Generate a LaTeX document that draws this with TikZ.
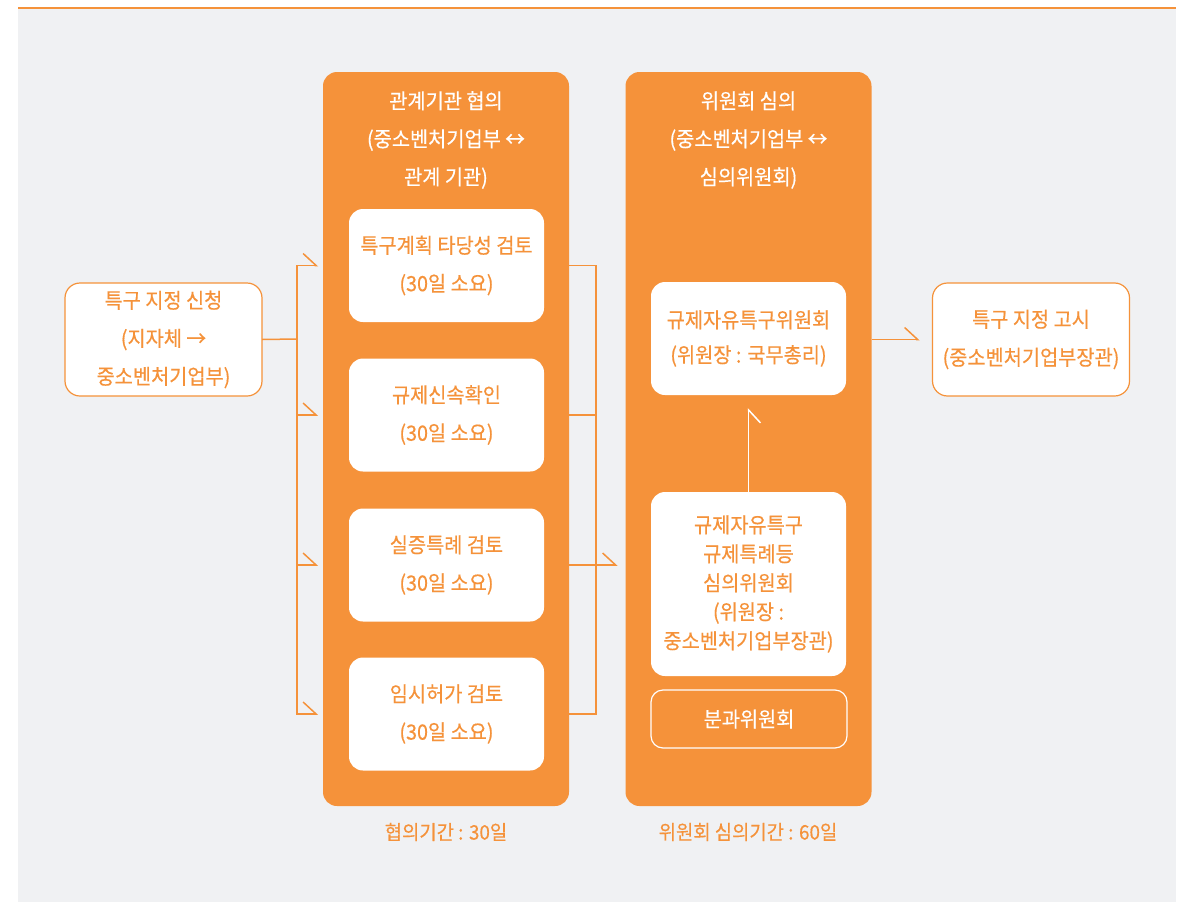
\documentclass[tikz,border=0pt]{standalone}
\usepackage{fontspec}
\setmainfont{Noto Sans CJK KR}[FakeBold=0.4, FakeStretch=0.94]
\usetikzlibrary{arrows.meta}
\definecolor{org}{HTML}{F5923A}
\definecolor{bg}{HTML}{F0F1F3}
\begin{document}
\begin{tikzpicture}[x=1pt,y=-1pt,
  every node/.style={inner sep=0pt, outer sep=0pt},
  txt/.style={font=\fontsize{21}{38}\selectfont, align=center},
  col/.style={fill=org, rounded corners=14pt, minimum width=246pt, minimum height=734pt},
  wbox/.style={fill=white, rounded corners=14pt, minimum width=195pt, minimum height=113pt, text=org, txt},
  obox/.style={draw=org, line width=1.2pt, fill=white, rounded corners=15pt, minimum width=197pt, minimum height=113pt, text=org, txt},
  conn/.style={draw=org, line width=1.5pt},
  harr/.style={conn, -{Straight Barb[harpoon,length=13pt,width=24pt]}},
  harrs/.style={conn, -{Straight Barb[harpoon,swap,length=13pt,width=24pt]}},
]
\useasboundingbox (0,0) rectangle (1186,902);
\fill[white] (0,0) rectangle (1186,902);
\fill[bg] (18,9) rectangle (1176,902);
\draw[org, line width=2pt] (18,8) -- (1176,8);

\node[obox] (req) at (163.5,339.5) {특구 지정 신청\\(지자체 →\\중소벤처기업부)};

\node[col] (c1) at (446,439) {};
\node[txt, text=white] (t1) at (446,140) {관계기관 협의\\(중소벤처기업부 ↔\\관계 기관)};
\node[wbox] (b1) at (446.5,265.5) {특구계획 타당성 검토\\(30일 소요)};
\node[wbox] (b2) at (446.5,415) {규제신속확인\\(30일 소요)};
\node[wbox] (b3) at (446.5,565) {실증특례 검토\\(30일 소요)};
\node[wbox] (b4) at (446.5,714) {임시허가 검토\\(30일 소요)};

\node[col] (c2) at (748.5,439) {};
\node[txt, text=white] (t2) at (748.5,140) {위원회 심의\\(중소벤처기업부 ↔\\심의위원회)};
\node[wbox, font=\fontsize{21}{35}\selectfont] (bA) at (748.5,338.5) {규제자유특구위원회\\(위원장 : 국무총리)};
\node[wbox, minimum height=184pt, font=\fontsize{21}{29}\selectfont] (bB) at (748.5,584) {규제자유특구\\규제특례등\\심의위원회\\(위원장 :\\중소벤처기업부장관)};
\node[draw=white, line width=1.2pt, rounded corners=12pt, minimum width=196pt, minimum height=58pt, text=white, txt] (bC) at (749,719) {분과위원회};

\node[obox] (rb) at (1031,339.5) {특구 지정 고시\\(중소벤처기업부장관)};

\node[txt, text=org, font=\fontsize{20}{24}\selectfont] (l1) at (446,832) {협의기간 : 30일};
\node[txt, text=org, font=\fontsize{20}{24}\selectfont] (l2) at (748,832) {위원회 심의기간 : 60일};

\coordinate (jL) at (297,339);
\coordinate (jR) at (596,439);
\draw[conn] (req.east) -- (jL);
\draw[conn, line cap=rect] (jL |- b1) -- (jL |- b4);
\foreach \b in {b1,b2,b3,b4} \draw[harr, shorten >=5pt] (jL |- \b) -- (c1.west |- \b);
\foreach \b in {b1,b2,b3,b4} \draw[conn] (c1.east |- \b) -- (jR |- \b);
\draw[conn, line cap=rect] (jR |- b1) -- (jR |- b4);
\draw[harr, shorten >=8pt] (jR |- b3) -- (c2.west |- b3);
\draw[harrs, draw=white, shorten >=13pt] (bB.north) -- (bA.south);
\draw[harr, shorten >=13pt] (c2.east |- rb) -- (rb.west);
\end{tikzpicture}
\end{document}
